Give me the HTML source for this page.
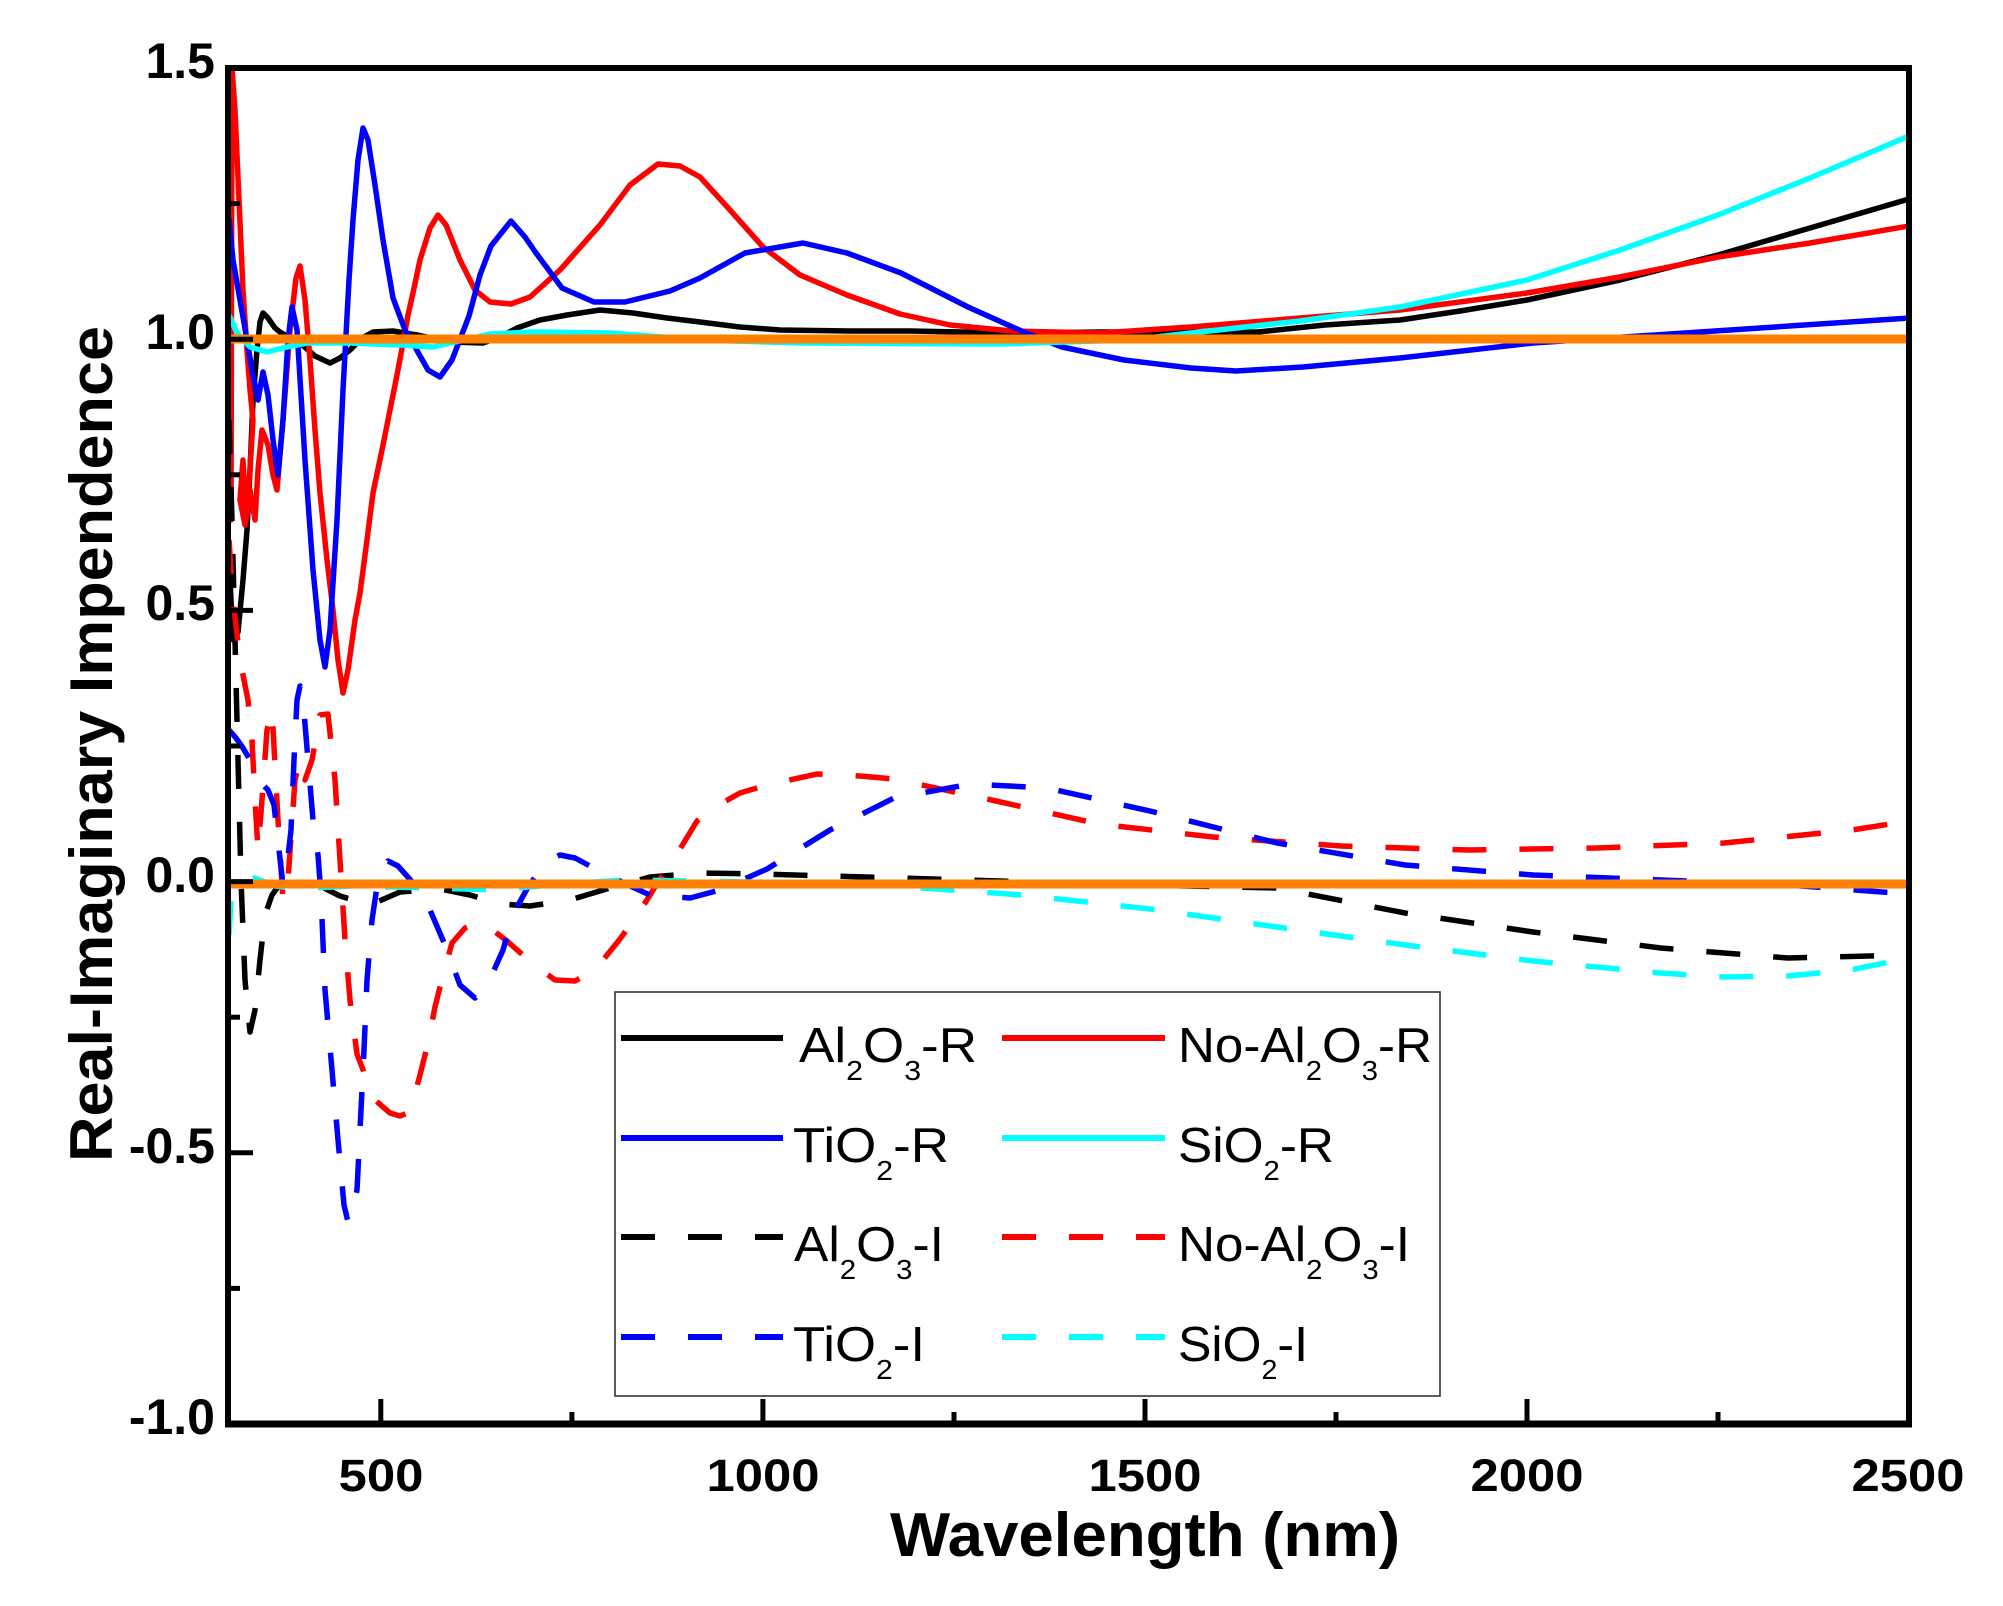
<!DOCTYPE html>
<html>
<head>
<meta charset="utf-8">
<style>
  html, body { margin: 0; padding: 0; background: #ffffff; }
  body { width: 2003px; height: 1606px; overflow: hidden; }
  svg { display: block; }
  .tick { font-family: "Liberation Sans", Arial, sans-serif; font-weight: bold; fill: #000; }
  .leg { font-family: "Liberation Sans", Arial, sans-serif; font-size: 49px; fill: #000; }
</style>
</head>
<body>
<svg width="2003" height="1606" viewBox="0 0 2003 1606" xmlns="http://www.w3.org/2000/svg">
  <rect x="0" y="0" width="2003" height="1606" fill="#ffffff"/>
  <defs>
    <clipPath id="plot">
      <rect x="228" y="64" width="1681" height="1360"/>
    </clipPath>
  </defs>

  <g clip-path="url(#plot)" fill="none" stroke-width="5.5" stroke-linejoin="round" stroke-linecap="butt">
    <!-- Al2O3-R -->
    <polyline stroke="#000000" points="229,560 233,640 238,632 243,580 247,530 250,470 253,400 257,350 260,322 263,313 268,318 275,328 280,332 290,338 300,343 315,356 330,363 340,358 350,350 362,338 373,332 393,331 417,335 450,342 483,343 500,337 517,328 540,320 567,315 600,310 633,313 667,318 700,322 740,327 780,330 850,331 910,331 1012,333 1102,332 1180,332 1258,332 1325,325 1400,320 1460,311 1527,300 1620,280 1718,255 1810,228 1909,199"/>
    <!-- No-Al2O3-R -->
    <polyline stroke="#ff0000" points="229,460 231,520 232,68 235,110 239,200 243,290 247,350 250,390 253,420 250,470 246,520 243,460 240,500 245,525 250,490 255,520 258,470 262,430 268,445 273,475 277,490 283,420 290,330 296,278 300,266 305,300 310,360 315,430 320,493 327,560 333,610 338,660 343,693 348,670 355,620 360,593 367,540 373,493 382,450 390,410 397,375 403,343 408,315 413,293 420,260 430,228 438,215 446,225 460,260 475,290 490,302 511,304 530,297 560,270 600,225 630,185 658,164 680,166 700,177 730,210 763,247 800,275 847,295 900,314 950,325 1012,331 1100,333 1191,327 1300,318 1400,310 1527,293 1620,277 1718,257 1810,243 1909,226"/>
    <!-- TiO2-R -->
    <polyline stroke="#0000ff" points="229,218 233,260 240,300 247,340 252,370 258,400 263,372 268,395 273,440 278,475 283,420 288,340 292,307 297,330 305,460 313,570 320,640 325,667 330,630 337,520 343,390 349,280 353,220 358,160 363,128 368,140 375,185 383,240 393,298 405,330 415,347 428,370 440,377 452,360 469,316 480,275 491,246 511,221 525,237 536,253 562,288 594,302 625,302 670,291 700,278 745,253 803,243 847,253 901,273 968,307 1026,333 1062,347 1124,360 1191,368 1236,371 1303,367 1400,358 1533,343 1700,332 1909,318"/>
    <!-- SiO2-R -->
    <polyline stroke="#00ffff" points="229,315 237,333 250,347 267,352 287,347 307,343 350,343 400,345 433,347 490,334 533,332 610,333 700,340 800,343 1000,344 1130,340 1191,333 1300,321 1400,307 1527,280 1620,250 1718,215 1810,178 1909,136"/>
  </g>

  <g clip-path="url(#plot)" fill="none" stroke-width="5.5" stroke-linejoin="round" stroke-linecap="butt" stroke-dasharray="34 33">
    <!-- Al2O3-I -->
    <polyline stroke="#000000" points="229,420 232,520 235,640 238,760 241,880 245,980 250,1032 255,1010 260,960 265,915 272,895 280,884 300,879 320,886 340,896 370,905 400,892 440,889 470,895 500,904 530,906 570,900 610,888 650,877 700,873 760,874 900,878 1100,884 1277,888 1405,913 1533,932 1661,948 1788,958 1909,955"/>
    <!-- No-Al2O3-I -->
    <polyline stroke="#ff0000" points="229,540 233,600 240,660 248,700 252,740 255,800 258,850 262,800 267,730 272,710 278,820 283,900 288,880 295,780 300,760 305,780 312,760 320,715 328,714 335,780 340,860 345,940 350,1000 357,1054 365,1075 375,1100 390,1113 400,1116 410,1112 420,1075 428,1043 435,1007 443,975 452,943 465,928 478,922 490,928 507,941 533,964 555,980 575,981 595,970 620,939 640,911 660,879 677,854 697,821 715,807 740,793 767,785 817,774 860,776 894,779 996,801 1099,824 1213,837 1341,846 1469,850 1597,848 1724,843 1852,830 1909,821"/>
    <!-- TiO2-I -->
    <polyline stroke="#0000ff" points="229,730 236,738 243,748 250,760 257,775 263,785 268,790 274,805 279,850 283,885 287,865 291,830 294,760 297,700 300,686 303,700 308,760 313,820 318,855 321,895 325,990 332,1070 338,1140 344,1205 348,1222 352,1215 357,1190 360,1130 364,1050 367,980 372,920 378,880 388,861 398,866 415,885 430,910 445,945 460,985 475,998 490,979 503,950 513,914 527,889 545,862 560,855 575,858 590,866 630,886 650,895 690,898 720,890 767,869 830,830 894,798 971,784 1047,788 1150,811 1277,843 1405,865 1533,875 1661,880 1788,885 1909,894"/>
    <!-- SiO2-I -->
    <polyline stroke="#00ffff" points="229,935 231,900 240,885 255,878 275,886 300,889 350,886 430,888 497,890 560,884 627,880 700,881 800,883 894,886 1022,895 1150,909 1277,927 1405,945 1533,961 1661,973 1725,977 1788,976 1850,970 1909,958"/>
  </g>

  <!-- orange reference lines -->
  <line x1="228" y1="339" x2="1909" y2="339" stroke="#ff8000" stroke-width="9"/>
  <line x1="228" y1="884" x2="1909" y2="884" stroke="#ff8000" stroke-width="9"/>

  <!-- frame -->
  <rect x="228" y="68" width="1681" height="1356" fill="none" stroke="#000" stroke-width="6"/>
  <line x1="225" y1="1424" x2="1912" y2="1424" stroke="#000" stroke-width="7"/>

  <!-- ticks -->
  <g stroke="#000" stroke-width="5">
    <line x1="228" y1="339.2" x2="253" y2="339.2"/>
    <line x1="228" y1="610.4" x2="253" y2="610.4"/>
    <line x1="228" y1="881.6" x2="253" y2="881.6"/>
    <line x1="228" y1="1152.8" x2="253" y2="1152.8"/>
    <line x1="228" y1="203.6" x2="240" y2="203.6"/>
    <line x1="228" y1="474.8" x2="240" y2="474.8"/>
    <line x1="228" y1="746" x2="240" y2="746"/>
    <line x1="228" y1="1017.2" x2="240" y2="1017.2"/>
    <line x1="228" y1="1288.4" x2="240" y2="1288.4"/>

    <line x1="380.8" y1="1424" x2="380.8" y2="1399"/>
    <line x1="762.9" y1="1424" x2="762.9" y2="1399"/>
    <line x1="1145" y1="1424" x2="1145" y2="1399"/>
    <line x1="1527" y1="1424" x2="1527" y2="1399"/>
    <line x1="571.9" y1="1424" x2="571.9" y2="1412"/>
    <line x1="954" y1="1424" x2="954" y2="1412"/>
    <line x1="1336" y1="1424" x2="1336" y2="1412"/>
    <line x1="1718" y1="1424" x2="1718" y2="1412"/>
  </g>

  <!-- y tick labels -->
  <g class="tick" font-size="50" text-anchor="end">
    <text x="215" y="78">1.5</text>
    <text x="215" y="349">1.0</text>
    <text x="215" y="620">0.5</text>
    <text x="215" y="892">0.0</text>
    <text x="215" y="1163">-0.5</text>
    <text x="215" y="1434">-1.0</text>
  </g>

  <!-- x tick labels -->
  <g class="tick" font-size="45" text-anchor="middle">
    <text x="381" y="1491" textLength="85" lengthAdjust="spacingAndGlyphs">500</text>
    <text x="763" y="1491" textLength="113" lengthAdjust="spacingAndGlyphs">1000</text>
    <text x="1145" y="1491" textLength="113" lengthAdjust="spacingAndGlyphs">1500</text>
    <text x="1527" y="1491" textLength="113" lengthAdjust="spacingAndGlyphs">2000</text>
    <text x="1908" y="1491" textLength="113" lengthAdjust="spacingAndGlyphs">2500</text>
  </g>

  <!-- axis titles -->
  <text class="tick" font-size="62" x="1145" y="1556" text-anchor="middle" textLength="510" lengthAdjust="spacingAndGlyphs">Wavelength (nm)</text>
  <text class="tick" font-size="60" transform="translate(112,744) rotate(-90)" x="0" y="0" text-anchor="middle" textLength="836" lengthAdjust="spacingAndGlyphs">Real-Imaginary Impendence</text>

  <!-- legend -->
  <rect x="615" y="992" width="825" height="404" fill="#ffffff" stroke="#333" stroke-width="1.6"/>
  <g fill="none" stroke-width="6">
    <line x1="621" y1="1038" x2="783" y2="1038" stroke="#000000"/>
    <line x1="1002" y1="1038" x2="1165" y2="1038" stroke="#ff0000"/>
    <line x1="621" y1="1138" x2="783" y2="1138" stroke="#0000ff"/>
    <line x1="1002" y1="1138" x2="1165" y2="1138" stroke="#00ffff"/>
    <line x1="621" y1="1237" x2="783" y2="1237" stroke="#000000" stroke-dasharray="34 33"/>
    <line x1="1002" y1="1237" x2="1165" y2="1237" stroke="#ff0000" stroke-dasharray="34 33"/>
    <line x1="621" y1="1337" x2="783" y2="1337" stroke="#0000ff" stroke-dasharray="34 33"/>
    <line x1="1002" y1="1337" x2="1165" y2="1337" stroke="#00ffff" stroke-dasharray="34 33"/>
  </g>
  <g class="leg">
    <text x="799" y="1062" textLength="178" lengthAdjust="spacingAndGlyphs">Al<tspan font-size="28" dy="18">2</tspan><tspan dy="-18">O</tspan><tspan font-size="28" dy="18">3</tspan><tspan dy="-18">-R</tspan></text>
    <text x="1178" y="1062" textLength="254" lengthAdjust="spacingAndGlyphs">No-Al<tspan font-size="28" dy="18">2</tspan><tspan dy="-18">O</tspan><tspan font-size="28" dy="18">3</tspan><tspan dy="-18">-R</tspan></text>
    <text x="793" y="1162" textLength="156" lengthAdjust="spacingAndGlyphs">TiO<tspan font-size="28" dy="18">2</tspan><tspan dy="-18">-R</tspan></text>
    <text x="1178" y="1162" textLength="156" lengthAdjust="spacingAndGlyphs">SiO<tspan font-size="28" dy="18">2</tspan><tspan dy="-18">-R</tspan></text>
    <text x="794" y="1261" textLength="150" lengthAdjust="spacingAndGlyphs">Al<tspan font-size="28" dy="18">2</tspan><tspan dy="-18">O</tspan><tspan font-size="28" dy="18">3</tspan><tspan dy="-18">-I</tspan></text>
    <text x="1178" y="1261" textLength="232" lengthAdjust="spacingAndGlyphs">No-Al<tspan font-size="28" dy="18">2</tspan><tspan dy="-18">O</tspan><tspan font-size="28" dy="18">3</tspan><tspan dy="-18">-I</tspan></text>
    <text x="793" y="1361" textLength="132" lengthAdjust="spacingAndGlyphs">TiO<tspan font-size="28" dy="18">2</tspan><tspan dy="-18">-I</tspan></text>
    <text x="1178" y="1361" textLength="130" lengthAdjust="spacingAndGlyphs">SiO<tspan font-size="28" dy="18">2</tspan><tspan dy="-18">-I</tspan></text>
  </g>
</svg>
</body>
</html>
